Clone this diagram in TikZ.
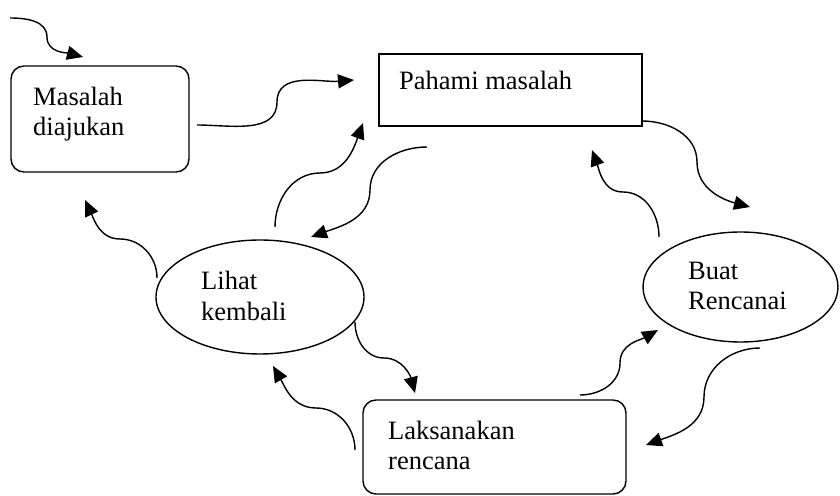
\documentclass[tikz,border=0pt]{standalone}
\usepackage{fontspec}
\setmainfont{Liberation Serif}
\usetikzlibrary{arrows.meta,shapes.geometric}
\begin{document}
\begin{tikzpicture}[x=1pt,y=1pt,
  box/.style={draw,line width=1.4pt,inner sep=0pt},
  rbox/.style={box,rounded corners=13pt},
  oval/.style={draw,ellipse,line width=1.4pt,inner sep=0pt},
  lbl/.style={anchor=base west,inner sep=0pt,font=\fontsize{26.5}{30.5}\selectfont},
  flow/.style={line width=1.4pt,-{Triangle[length=16pt,width=14pt]}}]
\useasboundingbox (0,0) rectangle (840,495);
% shapes
\node[rbox,minimum width=178pt,minimum height=106pt] (masalah) at (100,376) {};
\node[box,minimum width=263pt,minimum height=72pt] (pahami) at (510.5,405) {};
\node[oval,minimum width=208pt,minimum height=114pt] (lihat) at (260,198) {};
\node[oval,minimum width=195pt,minimum height=110pt] (buat) at (740.5,208) {};
\node[rbox,minimum width=263pt,minimum height=94pt] (laksana) at (494.5,48) {};
% labels
\node[lbl] (masalahA) at (33,389) {Masalah};
\node[lbl] (masalahB) at (33,359) {diajukan};
\node[lbl] (pahamiA) at (399,405) {Pahami masalah};
\node[lbl] (lihatA) at (201,205) {Lihat};
\node[lbl] (lihatB) at (201,174) {kembali};
\node[lbl] (buatA) at (688,215) {Buat};
\node[lbl] (buatB) at (688,185) {Rencanai};
\node[lbl] (laksanaA) at (388,56) {Laksanakan};
\node[lbl] (laksanaB) at (388,25) {rencana};
% connector points
\coordinate (s1) at (10,477);  \coordinate (m1) at (47,458);  \coordinate (e1) at (83,438);
\coordinate (s2) at (197,370); \coordinate (m2) at (277,393); \coordinate (e2) at (354,415);
\coordinate (s3) at (275,268); \coordinate (m3) at (320,322); \coordinate (e3) at (363,372);
\coordinate (s4) at (427,348); \coordinate (m4) at (370,305); \coordinate (e4) at (311,258);
\coordinate (s5) at (642,374); \coordinate (m5) at (697,333); \coordinate (e5) at (750,288);
\coordinate (s6) at (659,258); \coordinate (m6) at (623,303); \coordinate (e6) at (592,345);
\coordinate (s7) at (157,217); \coordinate (m7) at (120,256); \coordinate (e7) at (85,295);
\coordinate (s8) at (355,173); \coordinate (m8) at (384,137); \coordinate (e8) at (415,102);
\coordinate (s9) at (355,45);  \coordinate (m9) at (316,87);  \coordinate (e9) at (273,129);
\coordinate (s10) at (580,100); \coordinate (m10) at (620,132); \coordinate (e10) at (658,165);
\coordinate (s11) at (760,147); \coordinate (m11) at (704,98); \coordinate (e11) at (646,50);
% connectors
\draw[flow] (s1) to[out=0,in=90] (m1) to[out=-90,in=165] (e1);
\draw[flow] (s2) to[out=0,in=-90] (m2) to[out=90,in=185] (e2);
\draw[flow] (s3) to[out=90,in=180] (m3) to[out=0,in=250] (e3);
\draw[flow] (s4) to[out=180,in=90] (m4) to[out=-90,in=20] (e4);
\draw[flow] (s5) to[out=0,in=90] (m5) to[out=-90,in=165] (e5);
\draw[flow] (s6) to[out=90,in=0] (m6) to[out=180,in=290] (e6);
\draw[flow] (s7) to[out=90,in=0] (m7) to[out=180,in=295] (e7);
\draw[flow] (s8) to[out=-90,in=180] (m8) to[out=0,in=105] (e8);
\draw[flow] (s9) to[out=90,in=0] (m9) to[out=180,in=300] (e9);
\draw[flow] (s10) to[out=0,in=-90] (m10) to[out=90,in=210] (e10);
\draw[flow] (s11) to[out=180,in=90] (m11) to[out=-90,in=20] (e11);
\end{tikzpicture}
\end{document}
